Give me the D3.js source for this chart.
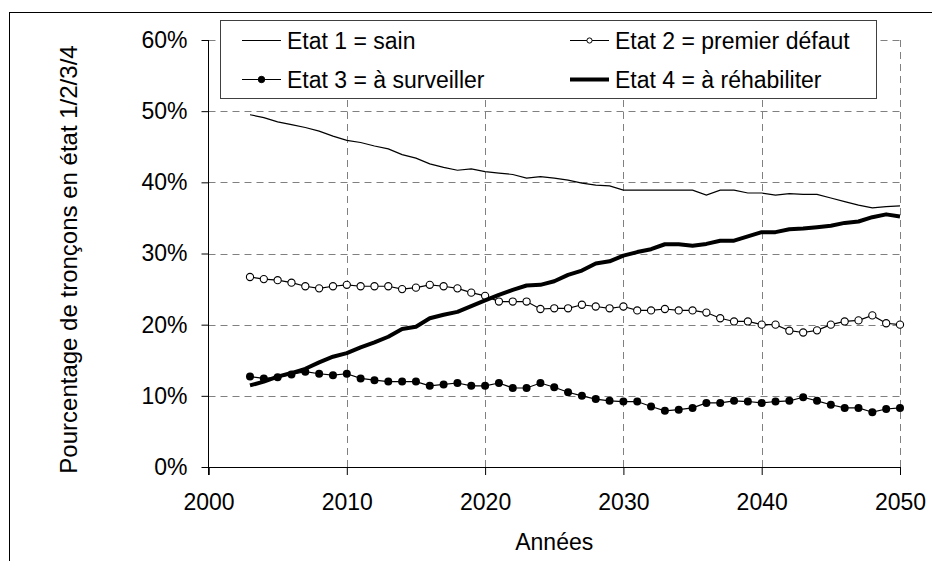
<!DOCTYPE html>
<meta charset="utf-8">
<script src="https://d3js.org/d3.v7.min.js"></script>
<style>
  body { margin: 0; background: #fff; }
  text { font-family: "Liberation Sans", Arial, sans-serif; fill: #000; }
</style>
<div id="chart"></div>
<script>
// years 2003..2050
var years = d3.range(2003, 2051);

// Etat 1 = sain
var etat1 = [49.5, 49.1, 48.5, 48.1, 47.7, 47.2, 46.5, 45.9, 45.6, 45.1,
             44.7, 43.9, 43.4, 42.6, 42.1, 41.7, 41.9, 41.5, 41.3, 41.1,
             40.6, 40.8, 40.6, 40.3, 39.9, 39.6, 39.5, 38.9, 38.9, 38.9,
             38.9, 38.9, 38.9, 38.2, 38.9, 38.9, 38.5, 38.5, 38.2, 38.4,
             38.3, 38.3, 37.8, 37.3, 36.8, 36.4, 36.6, 36.7];
// Etat 2 = premier défaut
var etat2 = [26.7, 26.4, 26.25, 25.9, 25.4, 25.1, 25.4, 25.6, 25.4, 25.4,
             25.4, 25.0, 25.2, 25.6, 25.4, 25.1, 24.5, 24.05, 23.25, 23.25,
             23.25, 22.2, 22.3, 22.3, 22.8, 22.55, 22.3, 22.55, 22.0, 22.0,
             22.2, 22.0, 22.0, 21.7, 20.9, 20.45, 20.45, 20.0, 20.0, 19.15,
             18.9, 19.2, 20.0, 20.45, 20.6, 21.3, 20.2, 20.0];
// Etat 3 = à surveiller
var etat3 = [12.7, 12.45, 12.6, 13.0, 13.4, 13.1, 12.9, 13.1, 12.45, 12.2,
             12.0, 12.0, 12.0, 11.4, 11.6, 11.8, 11.4, 11.4, 11.8, 11.1,
             11.1, 11.8, 11.2, 10.5, 10.0, 9.55, 9.3, 9.2, 9.2, 8.5,
             7.9, 8.05, 8.3, 9.0, 9.0, 9.3, 9.2, 9.0, 9.2, 9.3,
             9.8, 9.3, 8.75, 8.3, 8.3, 7.7, 8.15, 8.3];
// Etat 4 = à réhabiliter
var etat4 = [11.46, 12.0, 12.7, 13.2, 13.8, 14.7, 15.5, 16.0, 16.8, 17.5,
             18.3, 19.4, 19.7, 20.9, 21.4, 21.8, 22.6, 23.4, 24.2, 24.9,
             25.5, 25.6, 26.1, 27.0, 27.6, 28.6, 28.9, 29.7, 30.2, 30.6,
             31.3, 31.3, 31.1, 31.35, 31.8, 31.8, 32.4, 33.0, 33.0, 33.4,
             33.5, 33.7, 33.9, 34.3, 34.5, 35.1, 35.5, 35.2];

var xTicks = [2000, 2010, 2020, 2030, 2040, 2050];
var yTicks = [0, 10, 20, 30, 40, 50, 60];

var width = 932, height = 561;

var svg = d3.select("#chart")
  .append("svg")
    .attr("width", width)
    .attr("height", height);

// outer frame (runs off the right and bottom edges)
svg.append("rect")
    .attr("x", 9.5).attr("y", 12.5)
    .attr("width", 940).attr("height", 560)
    .attr("fill", "#fff")
    .attr("stroke", "#000")
    .attr("stroke-width", 1);

var x = d3.scaleLinear().domain([2000, 2050]).range([208.5, 900]);
var y = d3.scaleLinear().domain([0, 60]).range([467, 40]);

// grid lines
svg.append("g").selectAll("line")
  .data(yTicks.filter(function(d){ return d > 0 }))
  .enter().append("line")
    .attr("x1", x(2000)).attr("x2", x(2050))
    .attr("y1", function(d){ return Math.round(y(d)) + 0.5 })
    .attr("y2", function(d){ return Math.round(y(d)) + 0.5 })
    .attr("stroke", "#808080")
    .attr("stroke-dasharray", "7,5");
svg.append("g").selectAll("line")
  .data(xTicks.filter(function(d){ return d > 2000 }))
  .enter().append("line")
    .attr("x1", function(d){ return Math.round(x(d)) + 0.5 })
    .attr("x2", function(d){ return Math.round(x(d)) + 0.5 })
    .attr("y1", y(60)).attr("y2", y(0))
    .attr("stroke", "#808080")
    .attr("stroke-dasharray", "7,5");

// axes
var yAxis = svg.append("g")
    .attr("transform", "translate(" + x(2000) + ",0)")
    .call(d3.axisLeft(y).tickValues(yTicks).tickSize(7).tickPadding(14)
      .tickFormat(function(d){ return d + "%" }));
var xAxis = svg.append("g")
    .attr("transform", "translate(0," + y(0) + ")")
    .call(d3.axisBottom(x).tickValues(xTicks).tickSize(8).tickPadding(19)
      .tickFormat(d3.format("d")));
[yAxis, xAxis].forEach(function(a){
  a.select(".domain").attr("stroke", "#000");
  a.selectAll(".tick line").attr("stroke", "#000");
  a.selectAll("text").style("font-size", "23px")
    .style("font-family", "'Liberation Sans', Arial, sans-serif").attr("fill", "#000");
});
yAxis.select(".domain").attr("d", "M0," + y(60) + "V" + (y(0) + 8));

// axis titles
svg.append("text")
    .attr("x", (x(2000) + x(2050)) / 2)
    .attr("y", 550)
    .attr("text-anchor", "middle")
    .style("font-size", "23px")
    .text("Années");
svg.append("text")
    .attr("transform", "translate(77," + ((y(0) + y(60)) / 2 + 6) + ") rotate(-90)")
    .attr("text-anchor", "middle")
    .style("font-size", "24px")
    .text("Pourcentage de tronçons en état 1/2/3/4");

// series
function series(vals) {
  return years.map(function(yr, i){ return {year: yr, v: vals[i]} });
}
var line = d3.line()
  .x(function(d){ return x(d.year) })
  .y(function(d){ return y(d.v) });

svg.append("path").datum(series(etat1))
    .attr("d", line).attr("fill", "none")
    .attr("stroke", "#000").attr("stroke-width", 1.2);

svg.append("path").datum(series(etat2))
    .attr("d", line).attr("fill", "none")
    .attr("stroke", "#000").attr("stroke-width", 1.2);
svg.append("g").selectAll("circle")
  .data(series(etat2))
  .enter().append("circle")
    .attr("cx", function(d){ return x(d.year) })
    .attr("cy", function(d){ return y(d.v) })
    .attr("r", 3.6)
    .attr("fill", "#fff")
    .attr("stroke", "#000")
    .attr("stroke-width", 1.1);

svg.append("path").datum(series(etat3))
    .attr("d", line).attr("fill", "none")
    .attr("stroke", "#000").attr("stroke-width", 1.2);
svg.append("g").selectAll("circle")
  .data(series(etat3))
  .enter().append("circle")
    .attr("cx", function(d){ return x(d.year) })
    .attr("cy", function(d){ return y(d.v) })
    .attr("r", 4)
    .attr("fill", "#000");

svg.append("path").datum(series(etat4))
    .attr("d", line).attr("fill", "none")
    .attr("stroke", "#000").attr("stroke-width", 4)
    .attr("stroke-linejoin", "round");

// legend
var legend = svg.append("g");
legend.append("rect")
    .attr("x", 220.5).attr("y", 20.5)
    .attr("width", 656).attr("height", 78)
    .attr("fill", "#fff")
    .attr("stroke", "#404040");

var legendItems = [
  {label: "Etat 1 = sain", lx: 242, ly: 40.5, w: 1.2, marker: null},
  {label: "Etat 2 = premier défaut", lx: 570, ly: 40.5, w: 1.2, marker: "open"},
  {label: "Etat 3 = à surveiller", lx: 242, ly: 79.5, w: 1.2, marker: "filled"},
  {label: "Etat 4 = à réhabiliter", lx: 570, ly: 79.5, w: 4, marker: null}
];
legendItems.forEach(function(it){
  legend.append("line")
      .attr("x1", it.lx).attr("x2", it.lx + 39)
      .attr("y1", it.ly).attr("y2", it.ly)
      .attr("stroke", "#000").attr("stroke-width", it.w);
  if (it.marker) {
    legend.append("circle")
        .attr("cx", it.lx + 19.5).attr("cy", it.ly)
        .attr("r", it.marker == "open" ? 2.6 : 3.2)
        .attr("fill", it.marker == "open" ? "#fff" : "#000")
        .attr("stroke", "#000").attr("stroke-width", 1);
  }
  legend.append("text")
      .attr("x", it.lx + 45)
      .attr("y", it.ly + 8)
      .style("font-size", "23px")
      .text(it.label);
});
</script>
